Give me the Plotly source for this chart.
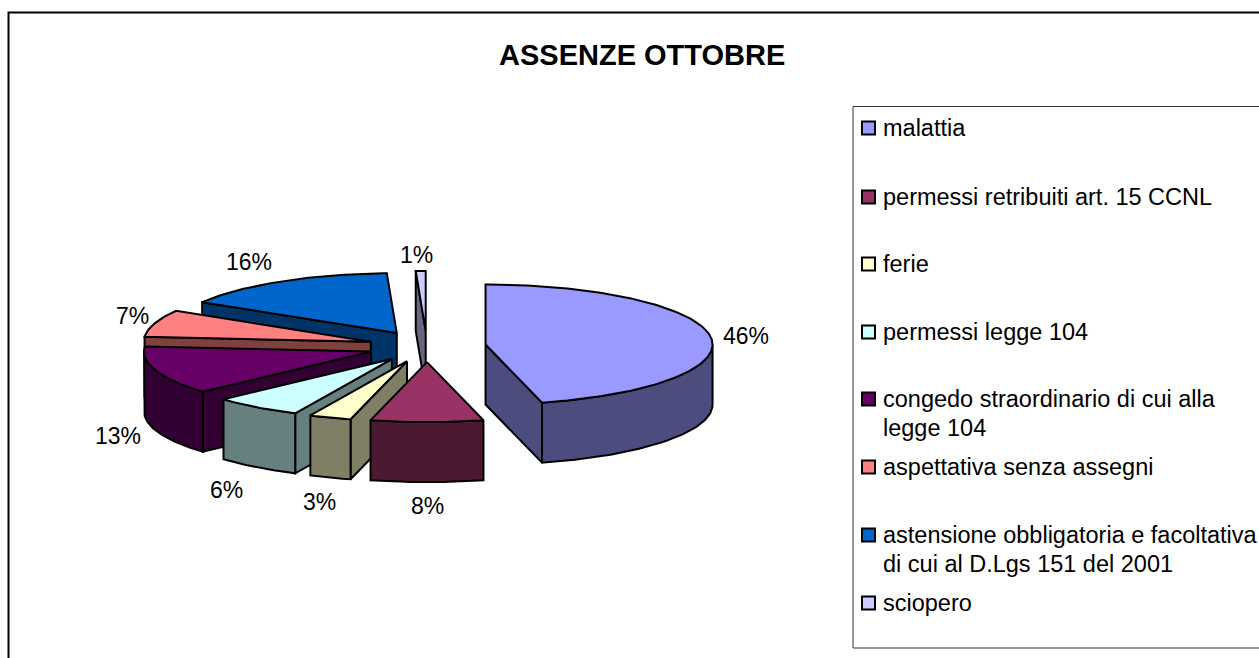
import numpy as np
import plotly.graph_objects as go

TITLE = "ASSENZE OTTOBRE"
categories = ["malattia", "permessi retribuiti art. 15 CCNL", "ferie", "permessi legge 104",
              "congedo straordinario di cui alla\nlegge 104", "aspettativa senza assegni",
              "astensione obbligatoria e facoltativa\ndi cui al D.Lgs 151 del 2001", "sciopero"]
values = [46.0, 8.0, 3.0, 6.3, 13.0, 7.3, 15.7, 0.7]
colors = ["#9999FF", "#993366", "#FFFFCC", "#CCFFFF", "#660066", "#FF8080", "#0066CC", "#CCCCFF"]

W, H = 1259, 658
CX, CY, RX, RY, DEPTH = 427.0, 346.5, 227.0, 60.0, 60.0
EXPLODE = 0.26
FONT = "Liberation Sans, Arial, sans-serif"
LABEL_NUDGE = [(-4, 2), (0, -1), (3, 1), (-6, 3), (0, -3), (16, 0), (-11, 2), (-3, 9)]

def px(x):
    return x / W
def py(y):
    return 1 - y / H

def darken(c):
    r, g, b = (int(c[i:i + 2], 16) for i in (1, 3, 5))
    return f"rgb({r // 2},{g // 2},{b // 2})"

fig = go.Figure()

def face(xs, ys, color):
    xs, ys = list(xs), list(ys)
    fig.add_trace(go.Scatter(x=xs + xs[:1], y=ys + ys[:1], mode="lines", fill="toself", fillcolor=color,
                             line=dict(color="black", width=2), showlegend=False, hoverinfo="skip"))

total = sum(values)
edges = np.cumsum([0] + values) / total * 2 * np.pi
slices = []
for i, v in enumerate(values):
    a, b = edges[i], edges[i + 1]
    m = (a + b) / 2
    slices.append((np.cos(m), i, a, b, m))
annotations = []
dy = DEPTH / RY  # axis units: 1 x unit = RX px, 1 y unit = RY px

for _, i, a, b, m in sorted(slices, key=lambda s: -s[0]):
    ax, ay = EXPLODE * np.sin(m), EXPLODE * np.cos(m)
    col, dark = colors[i], darken(colors[i])
    t = np.linspace(a, b, max(3, int((b - a) * 60)))
    rx, ry = ax + np.sin(t), ay + np.cos(t)
    # radial side walls facing the viewer
    if np.sin(a) < -1e-9:
        face([ax, ax + np.sin(a), ax + np.sin(a), ax],
             [ay, ay + np.cos(a), ay + np.cos(a) - dy, ay - dy], dark)
    if np.sin(b) > 1e-9:
        face([ax, ax + np.sin(b), ax + np.sin(b), ax],
             [ay, ay + np.cos(b), ay + np.cos(b) - dy, ay - dy], dark)
    # outer wall (front half only)
    lo, hi = max(a, np.pi / 2), min(b, 3 * np.pi / 2)
    if hi > lo:
        w = np.linspace(lo, hi, max(3, int((hi - lo) * 60)))
        wx, wy = ax + np.sin(w), ay + np.cos(w)
        face(np.r_[wx, wx[::-1]], np.r_[wy, wy[::-1] - dy], dark)
    # top face
    face(np.r_[ax, rx], np.r_[ay, ry], col)
    # data label
    lx = ax + (1 + 40 / RX) * np.sin(m)
    ly = ay + (1 + 25 / RY) * np.cos(m) - (dy if np.cos(m) < 0 else 0)
    annotations.append(dict(x=lx, y=ly, xref="x", yref="y", text=f"{round(values[i] / total * 100)}%",
                            showarrow=False, xshift=LABEL_NUDGE[i][0], yshift=-LABEL_NUDGE[i][1],
                            font=dict(family=FONT, size=23, color="black")))

shapes = [
    dict(type="rect", xref="paper", yref="paper", x0=px(8.5), x1=px(W + 20), y0=py(12.5), y1=py(H + 20),
         line=dict(color="black", width=2), fillcolor="rgba(0,0,0,0)", layer="below"),
    dict(type="rect", xref="paper", yref="paper", x0=px(853), x1=px(W + 20), y0=py(106.5), y1=py(648),
         line=dict(color="#333333", width=1), fillcolor="rgba(0,0,0,0)", layer="below"),
]

row_y = [128, 197, 264, 332, 399, 467, 535, 603]
LINE_GAP = 29
for cat, col, y in zip(categories, colors, row_y):
    shapes.append(dict(type="rect", xref="paper", yref="paper", x0=px(862), x1=px(875), y0=py(y - 6.5), y1=py(y + 6.5),
                       line=dict(color="black", width=2), fillcolor=col))
    for j, line in enumerate(cat.split("\n")):
        annotations.append(dict(x=px(883), y=py(y + j * LINE_GAP), xref="paper", yref="paper", xanchor="left",
                                yanchor="middle", text=line, showarrow=False, xshift=-2,
                                font=dict(family=FONT, size=23.5, color="black")))

annotations.append(dict(x=px(642), y=py(55), xref="paper", yref="paper", xanchor="center", yanchor="middle",
                        text=f"<b>{TITLE}</b>", showarrow=False,
                        font=dict(family=FONT, size=29, color="black")))

fig.update_layout(
    width=W, height=H, margin=dict(l=0, r=0, t=0, b=0), paper_bgcolor="white", plot_bgcolor="white",
    xaxis=dict(visible=False, range=[-CX / RX, (W - CX) / RX], fixedrange=True),
    yaxis=dict(visible=False, range=[(CY - H) / RY, CY / RY], fixedrange=True),
    shapes=shapes, annotations=annotations, showlegend=False,
)
fig.write_html("out.html", config=dict(displayModeBar=False),
               post_script="document.body.style.margin='0';document.body.style.overflow='hidden';")
